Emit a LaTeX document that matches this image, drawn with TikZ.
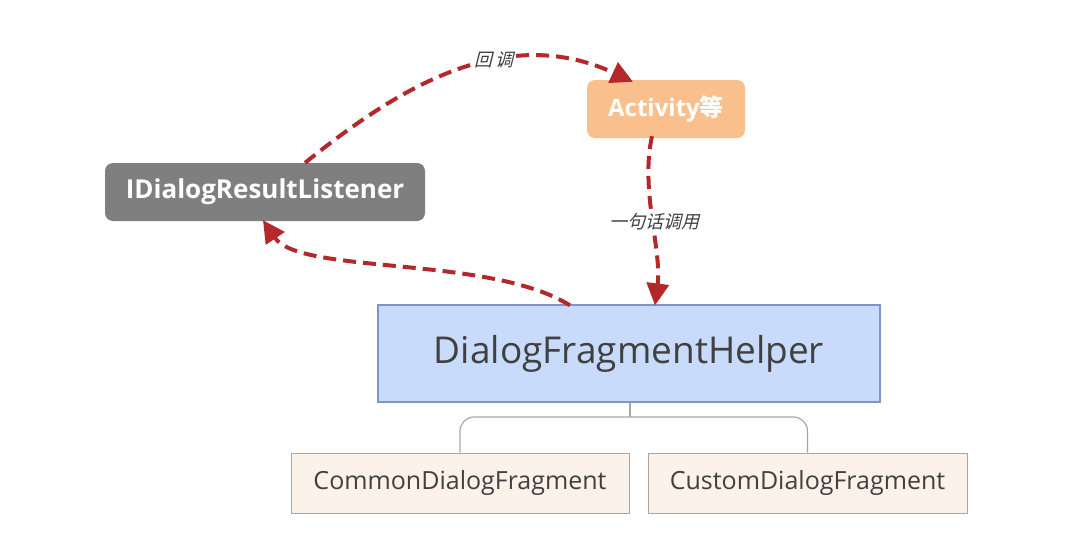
\documentclass[tikz,border=0pt]{standalone}
\usepackage{fontspec}
\setmainfont{Open Sans}
\newfontfamily\cjk{Noto Sans CJK SC}
\newfontfamily\cjkit[FakeSlant=0.25]{Noto Sans CJK SC}
\usetikzlibrary{arrows.meta}
\definecolor{arrowred}{HTML}{B3282A}
\definecolor{peach}{HTML}{F9C08E}
\definecolor{grayb}{HTML}{7F7F7F}
\definecolor{bluef}{HTML}{C9DBFB}
\definecolor{blued}{HTML}{7F96C4}
\definecolor{creamf}{HTML}{FDF2E9}
\definecolor{creamd}{HTML}{ABA6A2}
\definecolor{darktxt}{HTML}{404040}
\begin{document}
\begin{tikzpicture}[x=1pt,y=-1pt,
  rbox/.style={rounded corners=8pt, inner sep=0pt, text=white, font=\bfseries},
  leaf/.style={draw=creamd, fill=creamf, line width=1pt, inner sep=0pt, font=\fontsize{25}{30}\selectfont, text=darktxt},
  callarrow/.style={draw=arrowred, line width=4pt, dash pattern=on 13pt off 7pt, -{Triangle[length=22pt,width=22pt]}},
  lbl/.style={fill=white, inner sep=1pt, font=\cjkit\fontsize{18}{20}\selectfont, text=darktxt}]
\useasboundingbox (0,0) rectangle (1092,552);
\fill[white] (0,0) rectangle (1092,552);
\node[rbox, fill=grayb, minimum width=320pt, minimum height=58pt, font=\bfseries\fontsize{26}{30}\selectfont] (ilisten) at (265,192) {IDialogResultListener};
\node[rbox, fill=peach, minimum width=158pt, minimum height=58pt, font=\bfseries\fontsize{24}{28}\selectfont] (act) at (666,109) {Activity{\cjk 等}};
\node[draw=blued, fill=bluef, line width=1.2pt, minimum width=502pt, minimum height=97pt, inner sep=0pt, font=\fontsize{37}{42}\selectfont, text=darktxt] (helper) at (629,353.5) {DialogFragmentHelper};
\node[leaf, minimum width=338pt, minimum height=60pt] (common) at (460,483) {CommonDialogFragment};
\node[leaf, minimum width=319pt, minimum height=60pt] (custom) at (807.5,483) {CustomDialogFragment};
\coordinate (fork) at (630,417);
\draw[creamd, line width=1.2pt] (helper.south -| fork) -- (fork);
\draw[creamd, line width=1.2pt, rounded corners=14pt] (common.north) -- (common.north |- fork) -- (custom.north |- fork) -- (custom.north);
\draw[callarrow] ([xshift=40pt]ilisten.north) .. controls (390,95) and (500,20) .. ([xshift=-33pt,yshift=-2pt]act.north);
\node[lbl] (lblA) at (494,60) {回\,调};
\draw[callarrow] ([xshift=-14pt,yshift=2pt]act.south) .. controls (640,190) and (662,250) .. ([xshift=26pt,yshift=-1pt]helper.north);
\node[lbl] (lblB) at (654,222) {一句话调用};
\draw[callarrow] ([xshift=-59pt,yshift=-1pt]helper.north) .. controls (490,255) and (300,275) .. ([xshift=-2pt,yshift=1pt]ilisten.south);
\end{tikzpicture}
\end{document}
